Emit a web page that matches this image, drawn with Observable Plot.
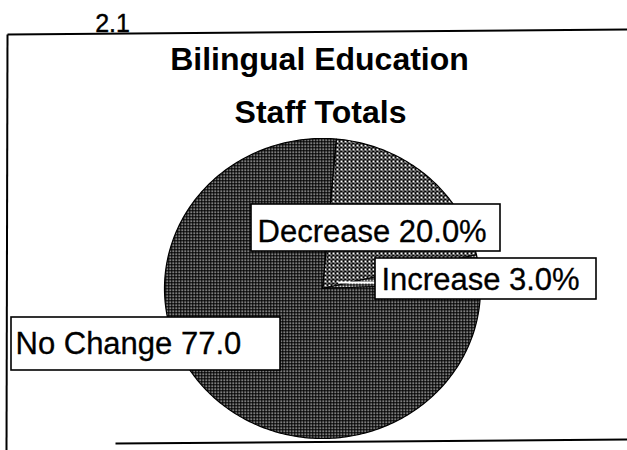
<!DOCTYPE html>
<html>
<head>
<meta charset="utf-8">
<script src="https://cdn.jsdelivr.net/npm/d3@7"></script>
<script src="https://cdn.jsdelivr.net/npm/@observablehq/plot@0.6"></script>
<style>
  html, body { margin: 0; padding: 0; background: #fff; }
  #chart svg { display: block; }
</style>
</head>
<body>
<div id="chart"></div>
<script>
// ---- data ----
const categories = ["Decrease", "Increase", "No Change"];
const values = [20.0, 3.0, 77.0];
const labelTexts = ["Decrease 20.0%", "Increase 3.0%", "No Change 77.0"];
const titleLines = ["Bilingual Education", "Staff Totals"];
const pageNumber = "2.1";

// ---- layout (pixels) ----
const W = 627, H = 450;
const cx = 322, cy = 288, rx = 158, ry = 150;
const startDeg = 5;
const labelBoxes = [
  {x1: 251, x2: 500, y1: 204, y2: 251, tx: 257, ty: 232},
  {x1: 375, x2: 596, y1: 258, y2: 299, tx: 381, ty: 280},
  {x1: 11,  x2: 280, y1: 317, y2: 370, tx: 15,  ty: 344}
];
const titleLayout = [{x: 319, y: 59}, {x: 320, y: 112}];
const frame = [
  {x1: 7, y1: 34, x2: 627, y2: 29},
  {x1: 7, y1: 34, x2: 6, y2: 450},
  {x1: 115, y1: 443, x2: 627, y2: 439}
];
const patterns = ["url(#pLight)", "url(#pMid)", "url(#pDark)"];

// ---- pie geometry from data ----
const arcs = d3.pie().sort(null).value(d => d.value)
  .startAngle(startDeg * Math.PI / 180)
  .endAngle(startDeg * Math.PI / 180 + 2 * Math.PI)(
    categories.map((c, i) => ({key: c, value: values[i]}))
  );
const pts = [];
for (const a of arcs) {
  const n = Math.max(2, Math.ceil((a.endAngle - a.startAngle) / (Math.PI / 180)));
  pts.push({key: a.data.key, x: cx, y: cy});
  for (let i = 0; i <= n; i++) {
    const t = a.startAngle + (a.endAngle - a.startAngle) * i / n;
    pts.push({key: a.data.key, x: cx + rx * Math.sin(t), y: cy - ry * Math.cos(t)});
  }
  pts.push({key: a.data.key, x: cx, y: cy});
}
// leader for the small slice
const inc = arcs[1];
const mid = (inc.startAngle + inc.endAngle) / 2;
const leader = [{
  x1: cx + 0.1 * rx * Math.sin(mid), y1: cy - 0.1 * ry * Math.cos(mid) - 4,
  x2: labelBoxes[1].x1, y2: cy - 6
}];

const labels = labelTexts.map((t, i) => ({text: t, ...labelBoxes[i]}));
const titles = titleLines.map((t, i) => ({text: t, ...titleLayout[i]}));

const svg = Plot.plot({
  width: W, height: H,
  margin: 0,
  x: {domain: [0, W], range: [0, W], axis: null},
  y: {domain: [0, H], range: [0, H], axis: null},
  color: {type: "ordinal", domain: categories, range: patterns},
  style: {background: "#fff"},
  marks: [
    Plot.link(frame, {x1: "x1", y1: "y1", x2: "x2", y2: "y2", stroke: "#000", strokeWidth: 2}),
    Plot.text([pageNumber], {x: [112], y: [23], text: d => d, fontSize: 25, fontFamily: "Liberation Sans, Arial, sans-serif", fill: "#000", stroke: "#000", strokeWidth: 0.4, lineAnchor: "middle"}),
    Plot.text(titles, {x: "x", y: "y", text: "text", fontSize: 32, fontWeight: "bold", fontFamily: "Liberation Sans, Arial, sans-serif", fill: "#000", lineAnchor: "middle"}),
    Plot.line(pts, {x: "x", y: "y", z: "key", fill: "key", stroke: "#000", strokeWidth: 1.2, curve: "linear"}),
    Plot.link(leader, {x1: "x1", y1: "y1", x2: "x2", y2: "y2", stroke: "#fff", strokeWidth: 2}),
    Plot.rect(labels, {x1: "x1", x2: "x2", y1: "y1", y2: "y2", fill: "#fff", stroke: "#000", strokeWidth: 1.6}),
    Plot.text(labels, {x: "tx", y: "ty", text: "text", textAnchor: "start", lineAnchor: "middle", fontSize: 31, fontFamily: "Liberation Sans, Arial, sans-serif", fill: "#000", stroke: "#000", strokeWidth: 0.3})
  ]
});

// texture patterns like the printed halftone
const ns = "http://www.w3.org/2000/svg";
const defs = document.createElementNS(ns, "defs");
function pattern(id, size, dots) {
  const p = document.createElementNS(ns, "pattern");
  p.setAttribute("id", id);
  p.setAttribute("patternUnits", "userSpaceOnUse");
  p.setAttribute("width", size); p.setAttribute("height", size);
  const bg = document.createElementNS(ns, "rect");
  bg.setAttribute("width", size); bg.setAttribute("height", size); bg.setAttribute("fill", "#000");
  p.appendChild(bg);
  for (const [x, y, s] of dots) {
    const d = document.createElementNS(ns, "rect");
    d.setAttribute("x", x); d.setAttribute("y", y);
    d.setAttribute("width", s); d.setAttribute("height", s);
    d.setAttribute("fill", "#fff");
    p.appendChild(d);
  }
  defs.appendChild(p);
}
pattern("pDark", 3, [[1, 1, 1.4]]);
pattern("pLight", 4, [[0, 0, 2], [2, 2, 1.3]]);
pattern("pMid", 3, [[0, 0, 1.8]]);
svg.insertBefore(defs, svg.firstChild);

document.getElementById("chart").appendChild(svg);
</script>
</body>
</html>
